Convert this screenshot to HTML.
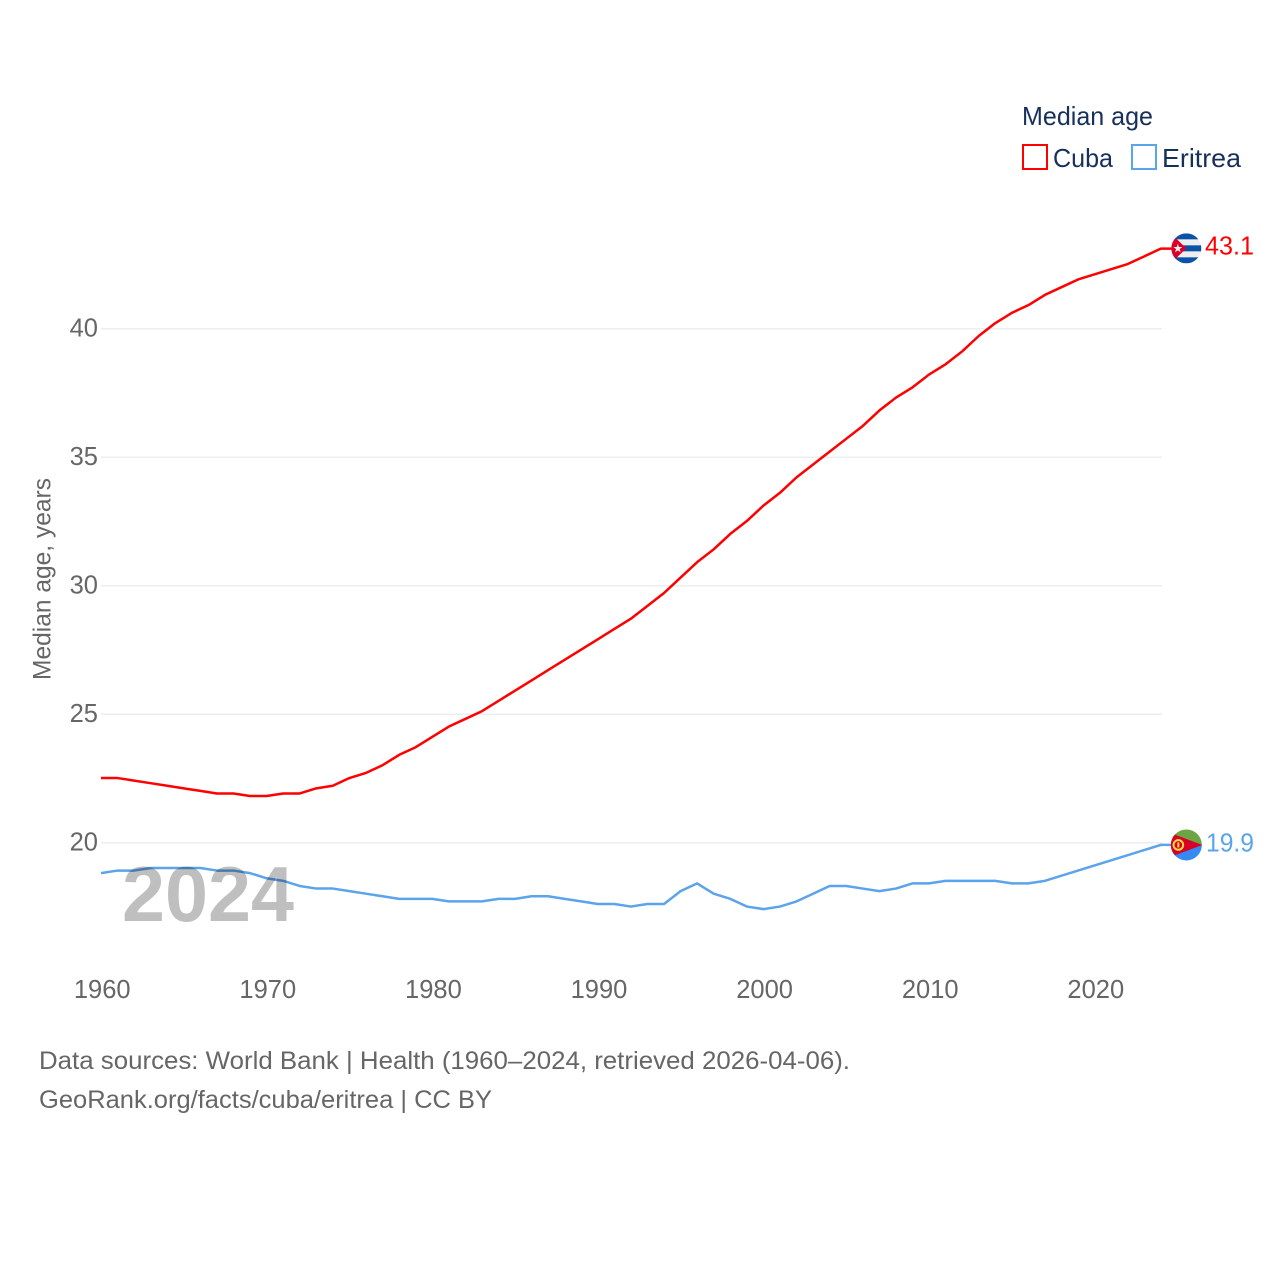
<!DOCTYPE html>
<html lang="en">
<head>
<meta charset="utf-8">
<title>Median age: Cuba and Eritrea</title>
<style>
html,body{margin:0;padding:0;background:#fff;}
svg{display:block;}
text{font-family:"Liberation Sans",sans-serif;}
</style>
</head>
<body>
<svg id="chart" xmlns="http://www.w3.org/2000/svg" width="1280" height="1280" viewBox="0 0 1280 1280">
  <rect width="1280" height="1280" fill="#fff"/>
  <g id="grid"></g>
  <g id="yticks"></g>
  <g id="xticks"></g>
  <text transform="translate(50.5,680) rotate(-90)" font-size="25" fill="#666" textLength="202" lengthAdjust="spacingAndGlyphs">Median age, years</text>
  <g id="series"></g>
  <text x="122" y="921" font-size="78" font-weight="700" fill="#000" fill-opacity="0.25" textLength="172" lengthAdjust="spacingAndGlyphs">2024</text>

  <g>
    <text x="1022" y="125" font-size="26" fill="#17305a" textLength="131" lengthAdjust="spacingAndGlyphs">Median age</text>
    <g>
      <rect x="1023" y="145" width="24" height="24" fill="#fff" stroke="#ff0000" stroke-width="2"/>
      <text x="1053" y="167" font-size="26" fill="#17305a" textLength="60" lengthAdjust="spacingAndGlyphs">Cuba</text>
    </g>
    <g>
      <rect x="1132" y="145" width="24" height="24" fill="#fff" stroke="#5ba4ec" stroke-width="2"/>
      <text x="1162" y="167" font-size="26" fill="#17305a" textLength="79" lengthAdjust="spacingAndGlyphs">Eritrea</text>
    </g>
  </g>

  <defs>
    <clipPath id="clip-cuba"><circle cx="0" cy="0" r="15"/></clipPath>
    <clipPath id="clip-eritrea"><circle cx="0" cy="0" r="15.5"/></clipPath>
  </defs>

  <g id="flag-cuba" clip-path="url(#clip-cuba)">
    <rect x="-15" y="-15" width="30" height="30" fill="#eeeeee"/>
    <rect x="-15" y="-15" width="30" height="6" fill="#0a52a8"/>
    <rect x="-15" y="-3" width="30" height="6" fill="#0a52a8"/>
    <rect x="-15" y="9" width="30" height="6" fill="#0a52a8"/>
    <path d="M-15,-14.5 L0,0 L-15,14.5 Z" fill="#d80027"/>
    <path d="M-8.5,-4.5 L-7.4,-1.3 L-4,-1.3 L-6.7,0.7 L-5.7,4 L-8.5,2 L-11.3,4 L-10.3,0.7 L-13,-1.3 L-9.6,-1.3 Z" fill="#eeeeee"/>
  </g>
  <g id="flag-eritrea" clip-path="url(#clip-eritrea)">
    <rect x="-16" y="-16" width="32" height="16" fill="#6da544"/>
    <rect x="-16" y="0" width="32" height="16" fill="#338af3"/>
    <path d="M-16,-12 L16,0 L-16,12 Z" fill="#d80027"/>
    <circle cx="-8" cy="0" r="4.8" fill="none" stroke="#ffda44" stroke-width="2"/>
    <rect x="-9" y="-2.5" width="2" height="5" fill="#ffda44"/>
  </g>
  <g id="end-labels"></g>

  <g>
    <text x="39" y="1069" font-size="25" fill="#666" textLength="811" lengthAdjust="spacingAndGlyphs">Data sources: World Bank | Health (1960–2024, retrieved 2026-04-06).</text>
    <text x="39" y="1108" font-size="25" fill="#666" textLength="453" lengthAdjust="spacingAndGlyphs">GeoRank.org/facts/cuba/eritrea | CC BY</text>
  </g>
</svg>
<script>
const years = [1960,1961,1962,1963,1964,1965,1966,1967,1968,1969,1970,1971,1972,1973,1974,1975,1976,1977,1978,1979,1980,1981,1982,1983,1984,1985,1986,1987,1988,1989,1990,1991,1992,1993,1994,1995,1996,1997,1998,1999,2000,2001,2002,2003,2004,2005,2006,2007,2008,2009,2010,2011,2012,2013,2014,2015,2016,2017,2018,2019,2020,2021,2022,2023,2024];
const cubaValues = [22.5,22.5,22.4,22.3,22.2,22.1,22.0,21.9,21.9,21.8,21.8,21.9,21.9,22.1,22.2,22.5,22.7,23.0,23.4,23.7,24.1,24.5,24.8,25.1,25.5,25.9,26.3,26.7,27.1,27.5,27.9,28.3,28.7,29.2,29.7,30.3,30.9,31.4,32.0,32.5,33.1,33.6,34.2,34.7,35.2,35.7,36.2,36.8,37.3,37.7,38.2,38.6,39.1,39.7,40.2,40.6,40.9,41.3,41.6,41.9,42.1,42.3,42.5,42.8,43.1];
const eritreaValues = [18.8,18.9,18.9,19.0,19.0,19.0,19.0,18.9,18.9,18.8,18.6,18.5,18.3,18.2,18.2,18.1,18.0,17.9,17.8,17.8,17.8,17.7,17.7,17.7,17.8,17.8,17.9,17.9,17.8,17.7,17.6,17.6,17.5,17.6,17.6,18.1,18.4,18.0,17.8,17.5,17.4,17.5,17.7,18.0,18.3,18.3,18.2,18.1,18.2,18.4,18.4,18.5,18.5,18.5,18.5,18.4,18.4,18.5,18.7,18.9,19.1,19.3,19.5,19.7,19.9];
const yTickValues = [20,25,30,35,40];
const xTickValues = [1960,1970,1980,1990,2000,2010,2020];

const SVGNS = 'http://www.w3.org/2000/svg';
const RED = '#ff0000';
const BLUE = '#5ba4ec';
function xScale(year){ return 101 + (year - 1960) * 16.56; }
function yScale(value){ return 842.7 - (value - 20) * 25.7; }
function make(tag, attrs, parent){
  const el = document.createElementNS(SVGNS, tag);
  for (const k in attrs) el.setAttribute(k, attrs[k]);
  parent.appendChild(el);
  return el;
}

const gridGroup = document.getElementById('grid');
const yGroup = document.getElementById('yticks');
yTickValues.forEach(function(v){
  const line = make('line', {x1:101, x2:1162, y1:yScale(v), y2:yScale(v), stroke:'#eeeeee', 'stroke-width':1.5}, gridGroup);
  
  
  const label = make('text', {x:98, y:yScale(v) + 8, 'text-anchor':'end', 'font-size':25.5, fill:'#666'}, yGroup);
  
  
  label.textContent = String(v);
});

const xGroup = document.getElementById('xticks');
xTickValues.forEach(function(y){
  const label = make('text', {x:xScale(y) + 1.2, y:998, 'text-anchor':'middle', 'font-size':25.5, fill:'#666'}, xGroup);
  
  
  label.textContent = String(y);
});

function linePoints(values){
  const pts = values.map(function(v, i){ return xScale(years[i]).toFixed(2) + ',' + (yScale(v) - 0.4).toFixed(2); });
  const last = values[values.length - 1];
  pts.push((xScale(years[years.length - 1]) + 11).toFixed(2) + ',' + (yScale(last) - 0.4).toFixed(2));
  return pts.join(' ');
}
const seriesGroup = document.getElementById('series');
const cubaLine = make('polyline', {points:linePoints(cubaValues), fill:'none', stroke:RED, 'stroke-width':2.5, 'stroke-linejoin':'round'}, seriesGroup);


const eritreaLine = make('polyline', {points:linePoints(eritreaValues), fill:'none', stroke:BLUE, 'stroke-width':2.5, 'stroke-linejoin':'round'}, seriesGroup);



const cubaLast = cubaValues[cubaValues.length - 1];
const eritreaLast = eritreaValues[eritreaValues.length - 1];
const flagX = xScale(2024) + 25.5;
document.getElementById('flag-cuba').setAttribute('transform', 'translate(' + flagX + ',' + (yScale(cubaLast) - 0.7) + ')');
document.getElementById('flag-eritrea').setAttribute('transform', 'translate(' + flagX + ',' + (yScale(eritreaLast) - 0.3) + ')');

const labelGroup = document.getElementById('end-labels');
const cubaLabel = make('text', {x:1205, y:yScale(cubaLast) + 5.5, 'font-size':25.5, fill:RED, textLength:49, lengthAdjust:'spacingAndGlyphs'}, labelGroup);


cubaLabel.textContent = cubaLast.toFixed(1);
const eritreaLabel = make('text', {x:1206, y:yScale(eritreaLast) + 6, 'font-size':25.5, fill:BLUE, textLength:48, lengthAdjust:'spacingAndGlyphs'}, labelGroup);


eritreaLabel.textContent = eritreaLast.toFixed(1);
</script>
</body>
</html>
